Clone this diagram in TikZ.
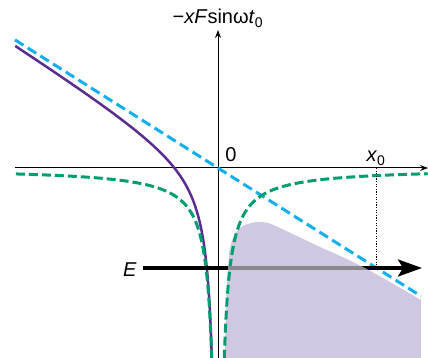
\documentclass[tikz,border=0pt]{standalone}
\usepackage{fontspec}
\setmainfont{Liberation Sans}
\usetikzlibrary{arrows.meta}
\definecolor{cblue}{RGB}{20,175,235}
\definecolor{cgreen}{RGB}{0,158,110}
\definecolor{cpurple}{RGB}{90,45,145}
\definecolor{clav}{RGB}{208,200,227}
\definecolor{cgrey}{RGB}{138,135,142}
\newcommand{\lavshape}{plot[smooth,tension=0.6] coordinates {(7,-190) (8,-140) (10,-100) (12,-80) (17,-66) (25,-58) (39,-54) (50,-55) (62,-60) (100,-78) (145,-99) (203,-132)} -- (203,-190) -- cycle}
\begin{document}
\begin{tikzpicture}[x=1pt,y=1pt,
  axisline/.style={line width=1pt, -{Stealth[length=8pt,width=6pt]}},
  bluedash/.style={cblue, line width=3pt, dash pattern=on 10pt off 5pt},
  greendash/.style={cgreen, line width=3pt, dash pattern=on 9pt off 4pt},
  purpleline/.style={cpurple, line width=2.5pt},
  earrow/.style={line width=3.5pt, -{Stealth[length=24pt,width=17pt,inset=5pt]}},
  dotline/.style={line width=1pt, dash pattern=on 1.3pt off 1.3pt},
  lbl/.style={font=\fontsize{20}{22}\selectfont, inner sep=0pt, anchor=base},
]
\useasboundingbox (-218,-190) rectangle (210,168);
% forbidden region
\fill[clav] \lavshape;
% axes
\coordinate (xl) at (-203,0);
\coordinate (xr) at (210,0);
\coordinate (yb) at (0,-190);
\coordinate (yt) at (0,138);
\draw[axisline] (xl) -- (xr);
\draw[axisline] (yb) -- (yt);
% field line
\coordinate (bl) at (-203,128.1);
\coordinate (br) at (203,-128.1);
\draw[bluedash] (bl) -- (br);
% total potential (left)
\draw[purpleline] plot[domain=1.8245:5.313, samples=150, variable=\t] ({-exp(\t)}, {0.631*exp(\t) - 1200/exp(\t)});
% Coulomb potential
\draw[greendash] plot[domain=1.84:5.313, samples=150, variable=\t] ({-exp(\t)}, {-1200/exp(\t)});
\draw[greendash] plot[domain=1.84:5.347, samples=150, variable=\t] ({exp(\t)}, {-1200/exp(\t)});
% energy arrow
\coordinate (es) at (-75,-100);
\coordinate (ee) at (204,-100);
\draw[earrow] (es) -- (ee);
\begin{scope}
  \clip \lavshape;
  \draw[cgrey, line width=3.5pt] (es) -- (ee);
\end{scope}
% x0 marker
\coordinate (dtop) at (158.7,0);
\coordinate (dbot) at (158.7,-100);
\draw[dotline] (dtop) -- (dbot);
% labels
\node[lbl] (zero) at (13,6) {0};
\node[lbl] (xzero) at (158,6) {\textit{x}\textsubscript{0}};
\node[lbl] (elbl) at (-88,-109) {\textit{E}};
\node[lbl] (ylbl) at (0,144) {−\textit{xF}sinω\textit{t}\textsubscript{0}};
\end{tikzpicture}
\end{document}
